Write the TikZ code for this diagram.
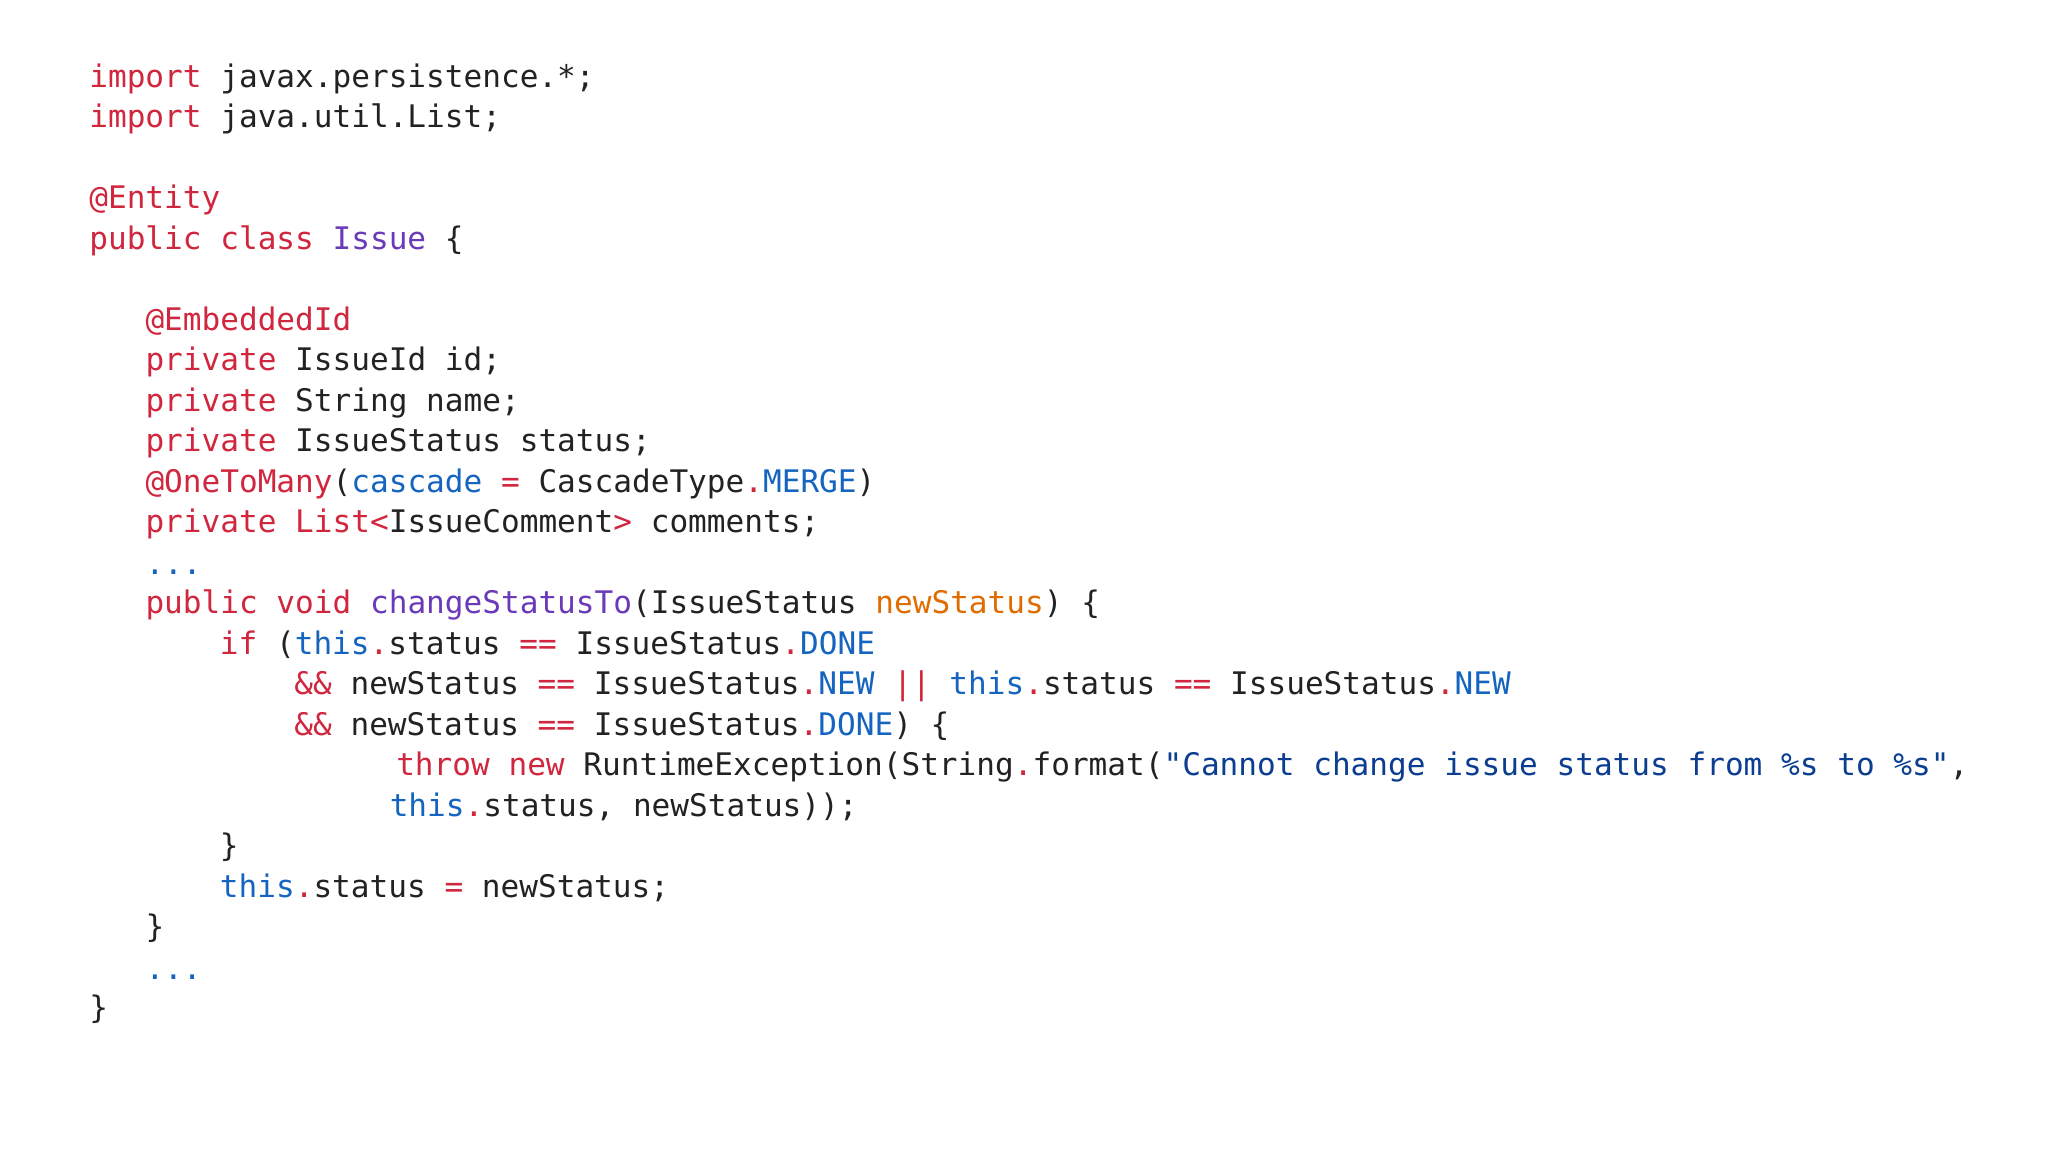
\documentclass[tikz,border=0pt]{standalone}
\usepackage{fontspec}
\setmonofont{DejaVu Sans Mono}
\definecolor{kwc}{HTML}{D0263E}
\definecolor{blc}{HTML}{1565C0}
\definecolor{puc}{HTML}{6A3AB8}
\definecolor{orc}{HTML}{E06C00}
\definecolor{stc}{HTML}{0B3D91}
\definecolor{txc}{HTML}{222222}
\newcommand{\kw}[1]{\textcolor{kwc}{#1}}
\newcommand{\bl}[1]{\textcolor{blc}{#1}}
\newcommand{\pu}[1]{\textcolor{puc}{#1}}
\newcommand{\orr}[1]{\textcolor{orc}{#1}}
\newcommand{\stt}[1]{\textcolor{stc}{#1}}
\begin{document}
\begin{tikzpicture}[x=0.5pt,y=-0.5pt,
  code/.style={anchor=base west,inner sep=0pt,font=\fontsize{11.9}{14}\ttfamily,text=txc}]
\useasboundingbox (0,0) rectangle (1568,882);
\fill[white] (0,0) rectangle (1568,882);
\node[code] (l1) at (68,67) {\kw{import} javax.persistence.*;};
\node[code] (l2) at (68,98) {\kw{import} java.util.List;};
\node[code] (l3) at (68,160) {\kw{@Entity}};
\node[code] (l4) at (68,191) {\kw{public class} \pu{Issue} \{};
\node[code] (l5) at (111,253) {\kw{@EmbeddedId}};
\node[code] (l6) at (111,284) {\kw{private} IssueId id;};
\node[code] (l7) at (111,315) {\kw{private} String name;};
\node[code] (l8) at (111,346) {\kw{private} IssueStatus status;};
\node[code] (l9) at (111,377) {\kw{@OneToMany}(\bl{cascade} \kw{=} CascadeType\kw{.}\bl{MERGE})};
\node[code] (l10) at (111,408) {\kw{private List<}IssueComment\kw{>} comments;};
\node[code] (l11) at (111,440) {\bl{...}};
\node[code] (l12) at (111,470) {\kw{public void} \pu{changeStatusTo}(IssueStatus \orr{newStatus}) \{};
\node[code] (l13) at (168,501) {\kw{if} (\bl{this}\kw{.}status \kw{==} IssueStatus\kw{.}\bl{DONE}};
\node[code] (l14) at (225,532) {\kw{\&\&} newStatus \kw{==} IssueStatus\kw{.}\bl{NEW} \kw{||} \bl{this}\kw{.}status \kw{==} IssueStatus\kw{.}\bl{NEW}};
\node[code] (l15) at (225,563) {\kw{\&\&} newStatus \kw{==} IssueStatus\kw{.}\bl{DONE}) \{};
\node[code] (l16) at (303,594) {\kw{throw new} RuntimeException(String\kw{.}format(\stt{"Cannot change issue status from \%s to \%s"},};
\node[code] (l17) at (298,625) {\bl{this}\kw{.}status, newStatus));};
\node[code] (l18) at (168,656) {\}};
\node[code] (l19) at (168,687) {\bl{this}\kw{.}status \kw{=} newStatus;};
\node[code] (l20) at (111,718) {\}};
\node[code] (l21) at (111,750) {\bl{...}};
\node[code] (l22) at (68,780) {\}};
\end{tikzpicture}
\end{document}
